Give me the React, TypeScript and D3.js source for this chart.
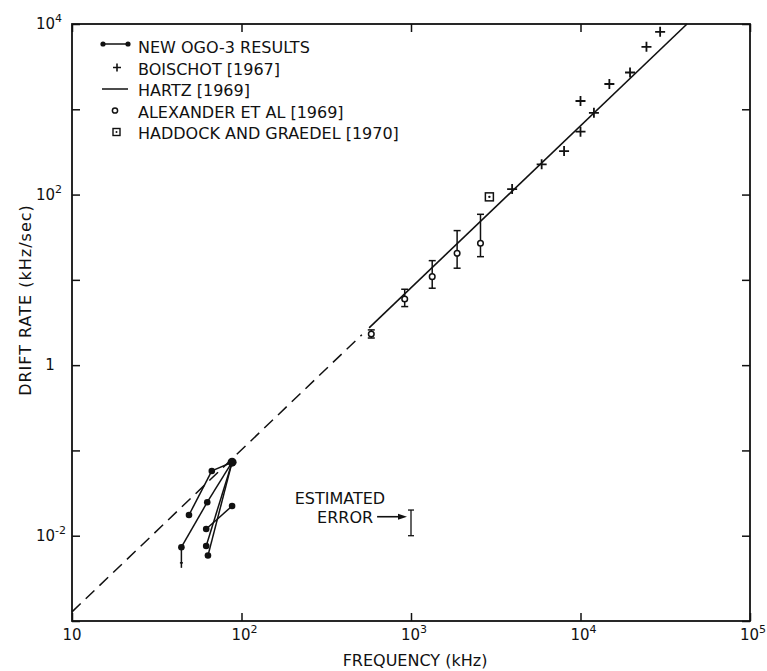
import * as d3 from 'd3';
import { useEffect, useRef } from 'react';

const WIDTH = 767;
const HEIGHT = 671;

// axes
const freqDomain = [10, 1e5];
const rateDomain = [1e-3, 1e4];
const freqTicks = [10, 1e2, 1e3, 1e4, 1e5];
const freqTickLabels = [['10', ''], ['10', '2'], ['10', '3'], ['10', '4'], ['10', '5']];
const rateTicks = [1e-3, 1e-2, 1e-1, 1, 10, 1e2, 1e3, 1e4];
const rateLabelValues = [1e-2, 1, 1e2, 1e4];
const rateTickLabels = [['10', '-2'], ['1', ''], ['10', '2'], ['10', '4']];

// Boischot [1967]: [frequency kHz, drift kHz/sec]
const boischot = [
  [3950, 116], [5900, 226], [8000, 324], [10000, 546], [12000, 910],
  [10000, 1250], [14800, 1980], [19600, 2700], [24500, 5400], [29500, 8100],
];

// Alexander et al [1969]: [frequency, drift, low, high]
const alexander = [
  [583, 2.32, 2.08, 2.59],
  [918, 5.97, 4.86, 7.76],
  [1334, 10.9, 7.98, 16.8],
  [1871, 20.5, 13.7, 37.8],
  [2570, 26.9, 18.7, 58.7],
];

// Haddock and Graedel [1970]
const haddock = [[2900, 94]];

// Hartz [1969] law, dashed extrapolation and solid part
const hartzDashed = [[10, 0.00128], [513, 2.27]];
const hartzSolid = [[566, 2.74], [42500, 10000]];

// New OGO-3 results: connected pairs of points
const ogoSegments = [
  [[88, 0.0728], [66.8, 0.0575]],
  [[66.8, 0.0575], [49, 0.0175]],
  [[88, 0.0728], [62.8, 0.0247]],
  [[62.8, 0.0247], [44.2, 0.00733]],
  [[88, 0.0728], [61.9, 0.00759]],
  [[88, 0.0728], [63.4, 0.00585]],
  [[61.9, 0.012], [88, 0.0223]],
];
const ogoHub = [88, 0.0728];
const ogoLimit = [[44.2, 0.00733], [44.2, 0.0042]];

// estimated error bar
const errorBar = [1000, 0.01, 0.02];
const errorArrow = [[631, 0.0167], [947, 0.0167]];

const legendItems = [
  'NEW OGO-3 RESULTS',
  'BOISCHOT [1967]',
  'HARTZ [1969]',
  'ALEXANDER ET AL [1969]',
  'HADDOCK AND GRAEDEL [1970]',
];

export default function App() {
  const ref = useRef(null);

  useEffect(() => {
    const svg = d3.select(ref.current);
    svg.selectAll('*').remove();

    const ink = '#111';
    const font = '"DejaVu Sans", sans-serif';
    const x = d3.scaleLog().domain(freqDomain).range([72, 750]);
    const y = d3.scaleLog().domain(rateDomain).range([621, 24]);
    const [x0, x1] = x.range();
    const [y0, y1] = y.range();

    svg.append('rect')
      .attr('width', WIDTH)
      .attr('height', HEIGHT)
      .attr('fill', '#fff');

    // inward ticks on all four sides
    const tick = 8;
    svg.append('g')
      .attr('transform', `translate(0,${y0})`)
      .call(d3.axisBottom(x).tickValues(freqTicks).tickSizeInner(-tick).tickSizeOuter(0).tickFormat(() => ''));
    svg.append('g')
      .attr('transform', `translate(0,${y1})`)
      .call(d3.axisTop(x).tickValues(freqTicks).tickSizeInner(-tick).tickSizeOuter(0).tickFormat(() => ''));
    svg.append('g')
      .attr('transform', `translate(${x0},0)`)
      .call(d3.axisLeft(y).tickValues(rateTicks).tickSizeInner(-tick).tickSizeOuter(0).tickFormat(() => ''));
    svg.append('g')
      .attr('transform', `translate(${x1},0)`)
      .call(d3.axisRight(y).tickValues(rateTicks).tickSizeInner(-tick).tickSizeOuter(0).tickFormat(() => ''));
    svg.selectAll('.domain').remove();
    svg.selectAll('.tick line').attr('stroke', ink).attr('stroke-width', 1.5);

    svg.append('rect')
      .attr('x', x0)
      .attr('y', y1)
      .attr('width', x1 - x0)
      .attr('height', y0 - y1)
      .attr('fill', 'none')
      .attr('stroke', ink)
      .attr('stroke-width', 1.8);

    // tick labels
    freqTicks.forEach((f, i) => {
      const [base, sup] = freqTickLabels[i];
      const t = svg.append('text')
        .attr('x', x(f) + (sup ? 3 : 0))
        .attr('y', 640)
        .attr('text-anchor', 'middle')
        .style('font-family', font)
        .style('font-size', '15px')
        .style('fill', ink)
        .text(base);
      if (sup) t.append('tspan').attr('dy', -7).style('font-size', '11px').text(sup);
    });

    rateLabelValues.forEach((v, i) => {
      const [base, sup] = rateTickLabels[i];
      const t = svg.append('text')
        .attr('x', sup ? 36 : 50)
        .attr('y', y(v) + 5)
        .attr('text-anchor', sup ? 'start' : 'middle')
        .style('font-family', font)
        .style('font-size', '15px')
        .style('fill', ink)
        .text(base);
      if (sup) t.append('tspan').attr('dy', -7).style('font-size', '11px').text(sup);
    });

    svg.append('text')
      .attr('x', (x0 + x1) / 2 + 4)
      .attr('y', 666)
      .attr('text-anchor', 'middle')
      .style('font-family', font)
      .style('font-size', '16px')
      .style('fill', ink)
      .text('FREQUENCY (kHz)');

    svg.append('text')
      .attr('transform', `translate(31,300) rotate(-90)`)
      .attr('text-anchor', 'middle')
      .style('font-family', font)
      .style('font-size', '16px')
      .style('letter-spacing', '1px')
      .style('fill', ink)
      .text('DRIFT RATE (kHz/sec)');

    // Hartz line
    const line = d3.line().x((d) => x(d[0])).y((d) => y(d[1]));
    svg.append('path')
      .attr('d', line(hartzDashed))
      .attr('fill', 'none')
      .attr('stroke', ink)
      .attr('stroke-width', 1.5)
      .attr('stroke-dasharray', '12 7');
    svg.append('path')
      .attr('d', line(hartzSolid))
      .attr('fill', 'none')
      .attr('stroke', ink)
      .attr('stroke-width', 1.6);

    // Boischot crosses
    svg.append('g')
      .selectAll('path')
      .data(boischot)
      .enter()
      .append('path')
      .attr('transform', (d) => `translate(${x(d[0])},${y(d[1])})`)
      .attr('d', 'M-5,0H5M0,-5V5')
      .attr('stroke', ink)
      .attr('stroke-width', 1.8);

    // Alexander et al: error bars and open circles
    const alex = svg.append('g').attr('stroke', ink).attr('stroke-width', 1.5);
    alexander.forEach(([f, v, lo, hi]) => {
      const cx = x(f);
      alex.append('line').attr('x1', cx).attr('x2', cx).attr('y1', y(lo)).attr('y2', y(hi));
      alex.append('line').attr('x1', cx - 3.5).attr('x2', cx + 3.5).attr('y1', y(lo)).attr('y2', y(lo));
      alex.append('line').attr('x1', cx - 3.5).attr('x2', cx + 3.5).attr('y1', y(hi)).attr('y2', y(hi));
      alex.append('circle').attr('cx', cx).attr('cy', y(v)).attr('r', 2.8).attr('fill', '#fff');
    });

    // Haddock and Graedel
    haddock.forEach(([f, v]) => {
      svg.append('rect')
        .attr('x', x(f) - 4).attr('y', y(v) - 4)
        .attr('width', 8).attr('height', 8)
        .attr('fill', '#fff').attr('stroke', ink).attr('stroke-width', 1.5);
      svg.append('circle').attr('cx', x(f)).attr('cy', y(v)).attr('r', 1.2).attr('fill', ink);
    });

    // New OGO-3 results
    const ogo = svg.append('g');
    ogoSegments.forEach((seg) => {
      ogo.append('path').attr('d', line(seg)).attr('stroke', ink).attr('stroke-width', 1.5).attr('fill', 'none');
    });
    ogo.append('path').attr('d', line(ogoLimit)).attr('stroke', ink).attr('stroke-width', 1.5);
    ogo.append('line')
      .attr('x1', x(ogoLimit[1][0]) - 1.5).attr('x2', x(ogoLimit[1][0]) + 1.5)
      .attr('y1', y(ogoLimit[1][1]) - 5).attr('y2', y(ogoLimit[1][1]) - 5)
      .attr('stroke', ink).attr('stroke-width', 1.5);
    const dots = [];
    ogoSegments.forEach((seg) => seg.forEach((p) => {
      if (!dots.some((q) => q[0] === p[0] && q[1] === p[1])) dots.push(p);
    }));
    dots.forEach((p) => {
      const hub = p[0] === ogoHub[0] && p[1] === ogoHub[1];
      ogo.append('circle').attr('cx', x(p[0])).attr('cy', y(p[1])).attr('r', hub ? 4.5 : 3.3).attr('fill', ink);
    });

    // estimated error
    const [ef, elo, ehi] = errorBar;
    const eg = svg.append('g').attr('stroke', ink).attr('stroke-width', 1.3);
    eg.append('line').attr('x1', x(ef)).attr('x2', x(ef)).attr('y1', y(elo)).attr('y2', y(ehi));
    eg.append('line').attr('x1', x(ef) - 3).attr('x2', x(ef) + 3).attr('y1', y(elo)).attr('y2', y(elo));
    eg.append('line').attr('x1', x(ef) - 3).attr('x2', x(ef) + 3).attr('y1', y(ehi)).attr('y2', y(ehi));
    const ax0 = x(errorArrow[0][0]);
    const ax1 = x(errorArrow[1][0]);
    const ay = y(errorArrow[0][1]);
    eg.append('line').attr('x1', ax0).attr('x2', ax1 - 6).attr('y1', ay).attr('y2', ay).attr('stroke-width', 1.6);
    svg.append('path')
      .attr('d', `M${ax1},${ay}L${ax1 - 9},${ay - 3}L${ax1 - 9},${ay + 3}Z`)
      .attr('fill', ink);
    svg.append('text')
      .attr('x', ax0 - 6).attr('y', ay - 13)
      .attr('text-anchor', 'end')
      .style('font-family', font).style('font-size', '16px').style('fill', ink)
      .attr('dx', 14)
      .text('ESTIMATED');
    svg.append('text')
      .attr('x', ax0 - 4).attr('y', ay + 6)
      .attr('text-anchor', 'end')
      .style('font-family', font).style('font-size', '16px').style('fill', ink)
      .text('ERROR');

    // legend
    const legend = svg.append('g').attr('transform', 'translate(102,0)');
    legendItems.forEach((label, i) => {
      const base = 53 + i * 21.5;
      const cy = base - 7;
      const row = legend.append('g');
      if (i === 0) {
        row.append('line').attr('x1', 0).attr('x2', 26).attr('y1', cy - 2).attr('y2', cy - 2).attr('stroke', ink).attr('stroke-width', 1.5);
        row.append('circle').attr('cx', 1).attr('cy', cy - 2).attr('r', 2.6).attr('fill', ink);
        row.append('circle').attr('cx', 26).attr('cy', cy - 2).attr('r', 2.6).attr('fill', ink);
      } else if (i === 1) {
        row.append('path').attr('transform', `translate(15,${cy})`).attr('d', 'M-4,0H4M0,-4V4').attr('stroke', ink).attr('stroke-width', 1.6);
      } else if (i === 2) {
        row.append('line').attr('x1', 0).attr('x2', 26).attr('y1', cy).attr('y2', cy).attr('stroke', ink).attr('stroke-width', 1.5);
      } else if (i === 3) {
        row.append('circle').attr('cx', 13).attr('cy', cy).attr('r', 2.6).attr('fill', '#fff').attr('stroke', ink).attr('stroke-width', 1.5);
      } else {
        row.append('rect').attr('x', 11).attr('y', cy - 3.5).attr('width', 7).attr('height', 7).attr('fill', '#fff').attr('stroke', ink).attr('stroke-width', 1.4);
        row.append('circle').attr('cx', 14.5).attr('cy', cy).attr('r', 1).attr('fill', ink);
      }
      row.append('text')
        .attr('x', 36)
        .attr('y', base)
        .style('font-family', font)
        .style('font-size', '16px')
        .style('fill', ink)
        .text(label);
    });
  }, []);

  return (
    <svg
      ref={ref}
      width={WIDTH}
      height={HEIGHT}
      style={{ position: 'absolute', left: 0, top: 0, display: 'block' }}
    />
  );
}
